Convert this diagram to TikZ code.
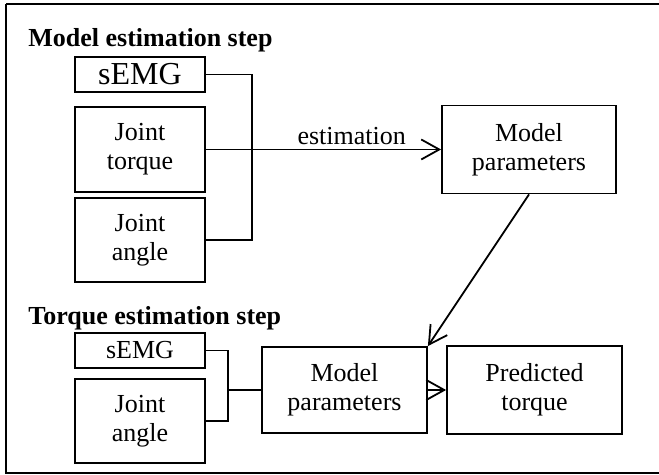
\documentclass[tikz,border=0pt]{standalone}
\usepackage{fontspec}
\setmainfont{Liberation Serif}
\usepackage{tikz}
\usetikzlibrary{calc}
\usetikzlibrary{arrows.meta}

\begin{document}
\begin{tikzpicture}[x=0.5pt,y=-0.5pt]
	\tikzstyle{every node}=[font=\fontsize{13}{14.5}\selectfont]
	\tikzstyle{blk}=[draw, line width=0.9pt, align=center, inner sep=0pt, minimum width=65pt]
	\tikzstyle{ttl}=[anchor=base west, inner sep=0pt, font=\fontsize{13}{14.5}\selectfont\bfseries]
	\tikzstyle{con}=[line width=0.9pt]
	\tikzstyle{arr}=[line width=0.9pt, -{Straight Barb[length=9pt,width=10pt,line width=0.9pt]}]
	
	\useasboundingbox (0,0) rectangle (659,475);
	\draw[line width=1pt] (6,4) -- (670,4) (6,4) -- (6,473) -- (670,473);
	
	%model estimation step
	\node[ttl] (ttlA) at (28,47) {Model estimation step};
	\node[blk, minimum height=17.5pt, font=\fontsize{16}{18}\selectfont] (semgA) at (140,74.5) {sEMG};
	\node[blk, minimum height=42.5pt] (torqA) at (140,149.5) {Joint\\torque};
	\node[blk, minimum height=42pt] (angA) at (140,240) {Joint\\angle};
	\node[blk, minimum width=87pt, minimum height=44pt] (parA) at (529,149.5) {Model\\parameters};
	
	\draw[con] (semgA.east) -- ++(46,0) |- (angA.east);
	\draw[arr] (torqA.east) -- (parA.west) node[pos=0.62, above, inner sep=2pt] {estimation};
	
	%torque estimation step
	\node[ttl] (ttlB) at (28,325) {Torque estimation step};
	\node[blk, minimum height=17.5pt] (semgB) at (140,350.5) {sEMG};
	\node[blk, minimum height=42pt] (angB) at (140,421) {Joint\\angle};
	\node[blk, minimum width=82.5pt, minimum height=43pt] (parB) at (344.5,390) {Model\\parameters};
	\node[blk, minimum width=87.5pt, minimum height=44pt] (pred) at (534.5,390) {Predicted\\torque};
	
	\draw[con] (semgB.east) -- ++(22,0) coordinate (jn) |- (angB.east);
	\draw[con] (jn |- parB.west) -- (parB.west);
	\draw[arr] (parB.east) -- (pred.west);
	\draw[arr] (parA.south) -- (parB.north east);
	
\end{tikzpicture}
\end{document}
